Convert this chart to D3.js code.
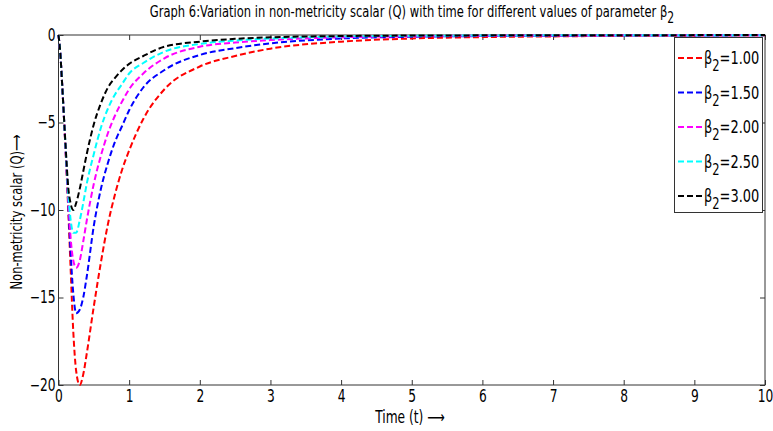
<!DOCTYPE html>
<html>
<head>
<meta charset="utf-8">
<script src="https://cdn.jsdelivr.net/npm/d3@7"></script>
<style>
  body { margin: 0; background: #fff; }
  svg text { font-family: "DejaVu Sans", "Liberation Sans", sans-serif; fill: #000; }
</style>
</head>
<body>
<div id="chart"></div>
<script>
// time grid (t) shared by all series
const times = [0, 0.025, 0.05, 0.1, 0.14, 0.17, 0.21, 0.25, 0.3, 0.35, 0.4, 0.5, 0.6, 0.7, 0.8, 0.9, 1.0, 1.2, 1.5, 2, 2.5, 3, 4, 5, 6, 7, 8, 10];

// Q values, one array per beta_2
const qBeta100 = [0, -1, -2.7, -6.6, -10.2, -13.2, -17.0, -19.2, -20, -19.4, -18.2, -15.5, -13.0, -10.8, -9.1, -7.7, -6.6, -4.8, -3.1, -1.8, -1.2, -0.78, -0.38, -0.2, -0.12, -0.08, -0.05, -0.03];
const qBeta150 = [0, -1, -2.7, -6.5, -9.8, -12.3, -14.8, -15.9, -15.7, -15.0, -13.8, -10.9, -8.8, -7.3, -6.1, -5.2, -4.3, -3.0, -2.0, -1.14, -0.75, -0.48, -0.2, -0.1, -0.06, -0.04, -0.03, -0.02];
const qBeta200 = [0, -1, -2.7, -6.5, -9.5, -11.5, -12.9, -13.3, -12.9, -11.8, -10.6, -8.5, -6.9, -5.6, -4.6, -3.8, -3.1, -2.2, -1.33, -0.67, -0.43, -0.29, -0.13, -0.07, -0.04, -0.03, -0.02, -0.01];
const qBeta250 = [0, -1, -2.7, -6.4, -9.2, -10.5, -11.3, -11.3, -10.6, -9.6, -8.5, -6.8, -5.3, -4.2, -3.4, -2.8, -2.2, -1.6, -0.95, -0.51, -0.32, -0.2, -0.09, -0.05, -0.03, -0.02, -0.01, -0.01];
const qBeta300 = [0, -1, -2.7, -6.3, -8.8, -9.6, -10.0, -9.6, -8.8, -7.8, -6.8, -5.1, -3.9, -3.0, -2.45, -2.0, -1.65, -1.2, -0.67, -0.38, -0.22, -0.13, -0.06, -0.03, -0.02, -0.01, -0.01, 0];

const betaLabels = ["1.00", "1.50", "2.00", "2.50", "3.00"];
const seriesColors = ["#ff0000", "#0000ff", "#ff00ff", "#00ffff", "#000000"];
const seriesValues = [qBeta100, qBeta150, qBeta200, qBeta250, qBeta300];

const xTicks = d3.range(0, 11, 1);
const yTicks = [0, -5, -10, -15, -20];

const width = 773;
const height = 431;
const margin = { top: 35, right: 8, bottom: 46, left: 58.5 };

const svg = d3.select("#chart")
    .append("svg")
    .attr("width", width)
    .attr("height", height);

const xScale = d3.scaleLinear().domain([0, 10]).range([margin.left, width - margin.right]);
const yScale = d3.scaleLinear().domain([-20, 0]).range([height - margin.bottom, margin.top]);

const axisColor = "#333";
const squeeze = "scale(0.72,1)"; // the original uses a narrow font

// frame
svg.append("rect")
    .attr("x", xScale(0))
    .attr("y", yScale(0))
    .attr("width", xScale(10) - xScale(0))
    .attr("height", yScale(-20) - yScale(0))
    .attr("fill", "none")
    .attr("stroke", axisColor)
    .attr("stroke-width", 1);

// inward ticks on all four sides (matlab style)
function styleAxis(g) {
    g.select(".domain").remove();
    g.selectAll(".tick line").attr("stroke", axisColor);
    g.selectAll("text").style("font-size", "17px").attr("transform", squeeze);
}

svg.append("g")
    .attr("transform", `translate(0,${yScale(-20)})`)
    .call(d3.axisBottom(xScale).tickValues(xTicks).tickSizeInner(-5).tickPadding(5).tickFormat(d3.format("d")))
    .call(styleAxis);

svg.append("g")
    .attr("transform", `translate(0,${yScale(0)})`)
    .call(d3.axisTop(xScale).tickValues(xTicks).tickSizeInner(-5).tickFormat(""))
    .call(styleAxis);

svg.append("g")
    .attr("transform", `translate(${xScale(0)},0)`)
    .call(d3.axisLeft(yScale).tickValues(yTicks).tickSizeInner(-5).tickPadding(4).tickFormat(d3.format("d")))
    .call(styleAxis);

svg.append("g")
    .attr("transform", `translate(${xScale(10)},0)`)
    .call(d3.axisRight(yScale).tickValues(yTicks).tickSizeInner(-5).tickFormat(""))
    .call(styleAxis);

// curves
const line = d3.line()
    .x((d, i) => xScale(times[i]))
    .y(d => yScale(d))
    .curve(d3.curveMonotoneX);

seriesValues.forEach((vals, k) => {
    svg.append("path")
        .datum(vals)
        .attr("fill", "none")
        .attr("stroke", seriesColors[k])
        .attr("stroke-width", 2)
        .attr("stroke-dasharray", "6,3")
        .attr("d", line);
});

// title
const title = svg.append("text")
    .attr("transform", `translate(412,17) ${squeeze}`)
    .attr("text-anchor", "middle")
    .style("font-size", "16px");
title.append("tspan").text("Graph 6:Variation in non-metricity scalar (Q) with time for different values of parameter β");
title.append("tspan").attr("dy", 6).style("font-size", "15px").text("2");

// axis labels
svg.append("text")
    .attr("transform", `translate(410,423) ${squeeze}`)
    .attr("text-anchor", "middle")
    .style("font-size", "17px")
    .text("Time (t) ⟶");

svg.append("text")
    .attr("transform", `translate(22,212) rotate(-90) ${squeeze}`)
    .attr("text-anchor", "middle")
    .style("font-size", "16px")
    .text("Non-metricity scalar (Q)⟶");

// legend
const legend = svg.append("g");
legend.append("rect")
    .attr("x", 674.5)
    .attr("y", 37.5)
    .attr("width", 88)
    .attr("height", 175)
    .attr("fill", "#fff")
    .attr("stroke", axisColor);

betaLabels.forEach((lab, k) => {
    const y = 58 + k * 34.5;
    legend.append("line")
        .attr("x1", 678).attr("x2", 702)
        .attr("y1", y).attr("y2", y)
        .attr("stroke", seriesColors[k])
        .attr("stroke-width", 2)
        .attr("stroke-dasharray", "6,3");
    const t = legend.append("text")
        .attr("transform", `translate(704,${y + 6}) ${squeeze}`)
        .style("font-size", "18px");
    t.append("tspan").text("β");
    t.append("tspan").attr("dy", 7).style("font-size", "16px").text("2");
    t.append("tspan").attr("dy", -7).text("=" + lab);
});
</script>
</body>
</html>
